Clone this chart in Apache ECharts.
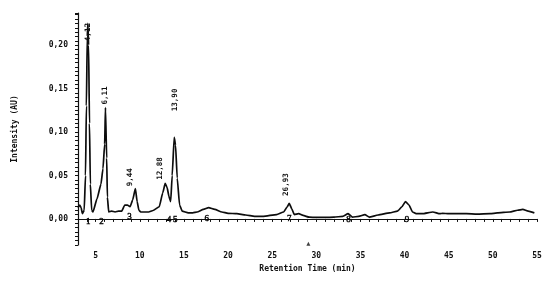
<!DOCTYPE html>
<html>
<head>
<meta charset="utf-8">
<title>Chromatogram</title>
<script src="https://cdn.jsdelivr.net/npm/echarts@6/dist/echarts.min.js"></script>
<style>
  html, body { margin: 0; padding: 0; background: #fff; }
  #main { width: 550px; height: 283px; }
</style>
</head>
<body>
<div id="main"></div>
<script type="text/javascript">
// retention time (min) and intensity (AU)
var times = [3.0, 3.2, 3.35, 3.5, 3.7, 3.85, 3.95, 4.05, 4.12, 4.2, 4.3, 4.4, 4.55, 4.69,
    5.15, 5.6, 5.83, 6.02, 6.11, 6.25, 6.33, 6.48, 6.8, 7.2, 7.6, 7.95, 8.3, 8.6, 8.9, 9.2, 9.5,
    9.7, 9.9, 10.1, 10.6, 11.0, 11.5, 12.2, 12.6, 12.88, 13.1, 13.3, 13.5, 13.67, 13.9, 14.05,
    14.24, 14.51, 14.8, 15.5, 16.0, 16.5, 17.2, 17.8, 18.5, 19.3, 20.0, 21.0, 22.0, 23.0, 24.0,
    25.5, 26.3, 26.7, 26.93, 27.2, 27.5, 28.0, 28.5, 29.2, 30.0, 31.0, 32.0, 33.0, 33.6, 34.1,
    34.8, 35.5, 36.0, 37.0, 38.3, 39.2, 39.7, 40.1, 40.5, 40.9, 41.3, 42.0, 43.2, 44.0, 44.3,
    45.0, 46.0, 47.0, 48.2, 49.7, 50.5, 51.9, 52.8, 53.4, 54.0, 54.7];
var intensity = [0.013, 0.016, 0.013, 0.006, 0.010, 0.05, 0.13, 0.21, 0.225, 0.20, 0.11, 0.04, 0.010, 0.008,
    0.023, 0.040, 0.058, 0.086, 0.128, 0.07, 0.025, 0.008, 0.009, 0.008, 0.009, 0.009, 0.016, 0.016, 0.014, 0.022, 0.035,
    0.020, 0.010, 0.008, 0.008, 0.008, 0.0097, 0.014, 0.030, 0.041, 0.036, 0.026, 0.020, 0.050, 0.094, 0.085,
    0.047, 0.016, 0.009, 0.007, 0.007, 0.008, 0.011, 0.013, 0.011, 0.008, 0.0065, 0.006, 0.0045, 0.003, 0.003,
    0.005, 0.008, 0.014, 0.018, 0.012, 0.005, 0.006, 0.004, 0.002, 0.0018, 0.0018, 0.002, 0.003, 0.006, 0.002,
    0.003, 0.005, 0.002, 0.0045, 0.007, 0.009, 0.014, 0.020, 0.016, 0.008, 0.006, 0.006, 0.008, 0.006, 0.0065,
    0.006, 0.006, 0.006, 0.0055, 0.006, 0.007, 0.008, 0.010, 0.011, 0.009, 0.007];

// retention-time labels printed above the peaks
var rtText = ['4,12', '6,11', '9,44', '12,88', '13,90', '26,93'];
var rtX = [4.12, 6.02, 8.92, 12.33, 13.98, 26.6];
var rtY = [0.215, 0.142, 0.048, 0.058, 0.137, 0.0395];

// peak numbers under the trace
var peakNo = ['1', '2', '3', '4', '5', '6', '7', '8', '9'];
var peakX = [4.15, 5.65, 8.83, 13.3, 14.03, 17.6, 26.93, 33.64, 40.28];
var peakY = [-0.0035, -0.0035, 0.0023, -0.001, -0.001, 0, 0, -0.001, -0.001];

var trace = [];
for (var i = 0; i < times.length; i++) {
    trace.push([times[i], intensity[i]]);
}

var mono = 'DejaVu Sans Mono';

// one text mark per annotation, placed in data space
function textMarks(xs, ys, texts, style) {
    var out = [];
    for (var i = 0; i < texts.length; i++) {
        out.push({ coord: [xs[i], ys[i]], value: texts[i], label: style });
    }
    return out;
}

var rtStyle = {
    show: true, position: 'inside', rotate: 90, formatter: '{c}',
    fontFamily: mono, fontSize: 7.5, fontWeight: 'bold', color: '#111'
};
var noStyle = {
    show: true, position: 'inside', formatter: '{c}',
    fontFamily: 'Liberation Serif', fontSize: 9, color: '#000',
    textBorderColor: '#000', textBorderWidth: 0.4
};

var myChart = echarts.init(document.getElementById('main'));
var option = {
    animation: false,
    backgroundColor: '#fff',
    grid: { left: 78, right: 13, top: 13, bottom: 38 },
    xAxis: {
        type: 'value',
        min: 3,
        max: 55,
        interval: 1,
        name: 'Retention Time (min)',
        nameLocation: 'middle',
        nameGap: 20,
        nameTextStyle: { fontFamily: mono, fontSize: 8, fontWeight: 'bold', color: '#111' },
        axisLine: { lineStyle: { color: '#111', width: 1.2 } },
        axisTick: { length: 3, lineStyle: { color: '#111' } },
        axisLabel: {
            fontFamily: mono, fontSize: 8, fontWeight: 'bold', color: '#111', margin: 7,
            showMinLabel: false,
            formatter: function (v) { return v % 5 === 0 ? String(v) : ''; }
        },
        splitLine: { show: false }
    },
    yAxis: {
        type: 'value',
        min: -0.03,
        max: 0.237,
        interval: 0.005,
        name: 'Intensity (AU)',
        nameLocation: 'middle',
        nameGap: 59,
        nameTextStyle: { fontFamily: mono, fontSize: 8, fontWeight: 'bold', color: '#111' },
        axisLine: { show: true, lineStyle: { color: '#111', width: 1.2 } },
        axisTick: { show: true, length: 3, lineStyle: { color: '#111' } },
        axisLabel: {
            fontFamily: mono, fontSize: 8, fontWeight: 'bold', color: '#111', margin: 10,
            formatter: function (v) {
                var k = v / 0.05;
                if (Math.abs(k - Math.round(k)) > 1e-6) return '';
                return (Math.round(k) * 0.05).toFixed(2).replace('.', ',');
            }
        },
        splitLine: { show: false }
    },
    series: [
        {
            type: 'line',
            data: trace,
            showSymbol: false,
            smooth: 0.15,
            smoothMonotone: 'x',
            lineStyle: { color: '#0d0d0d', width: 1.7 },
            markPoint: {
                symbol: 'circle',
                symbolSize: 0,
                silent: true,
                itemStyle: { color: '#000' },
                data: textMarks(rtX, rtY, rtText, rtStyle)
                    .concat(textMarks(peakX, peakY, peakNo, noStyle))
            }
        },
        {
            // small marker sitting on the time axis
            type: 'scatter',
            data: [[29.1, -0.0285]],
            symbol: 'triangle',
            symbolSize: 4,
            itemStyle: { color: '#111' }
        }
    ]
};
myChart.setOption(option);
</script>
</body>
</html>
